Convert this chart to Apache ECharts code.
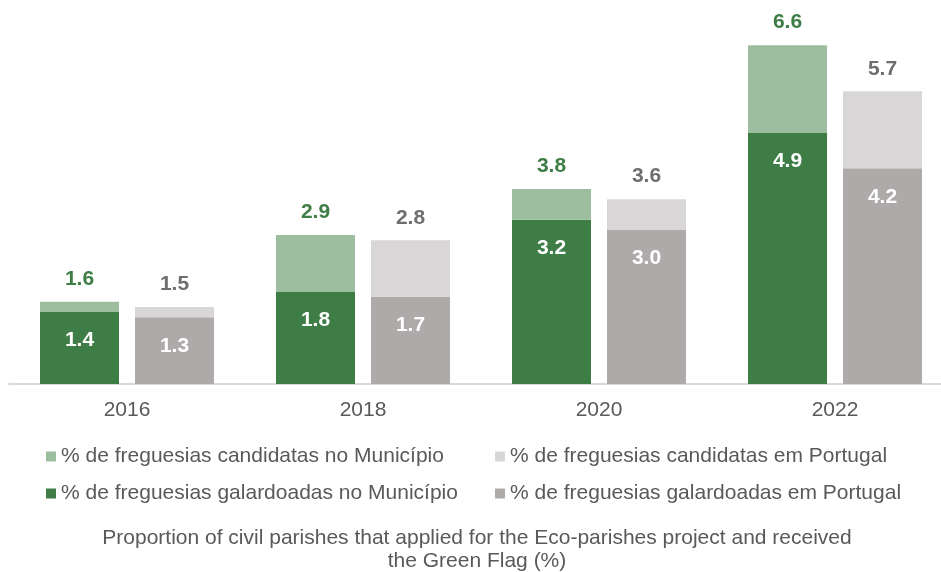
<!DOCTYPE html>
<html><head><meta charset="utf-8">
<script src="https://cdn.jsdelivr.net/npm/echarts@6/dist/echarts.min.js"></script>
<style>html,body{margin:0;padding:0;background:#fff}#c{width:941px;height:572px}</style>
</head><body><div id="c"></div>
<script>
const years = ['2016', '2018', '2020', '2022'];
const candMun = [1.6, 2.9, 3.8, 6.6];
const galMun = [1.4, 1.8, 3.2, 4.9];
const candPt = [1.5, 2.8, 3.6, 5.7];
const galPt = [1.3, 1.7, 3.0, 4.2];
const names = ['% de freguesias candidatas no Município', '% de freguesias candidatas em Portugal',
  '% de freguesias galardoadas no Município', '% de freguesias galardoadas em Portugal'];
const titleText = 'Proportion of civil parishes that applied for the Eco-parishes project and received\nthe Green Flag (%)';

const FONT = '"Liberation Sans", Arial, sans-serif';
const FS = 21;
const C = { dg: '#3F7D46', lg: '#9DBE9E', dgr: '#AEAAAA', lgr: '#D8D6D7', txt: '#595959' };
const fmt1 = v => Number(v).toFixed(1);

const chart = echarts.init(document.getElementById('c'));
function leg(name, left, top) {
  return { data: [name], left, top, icon: 'rect', itemWidth: 10, itemHeight: 10, itemGap: 0,
    selectedMode: false, padding: 0,
    textStyle: { fontFamily: FONT, fontSize: FS, color: C.txt, padding: [0, 0, 0, 0] } };
}
const diffMun = candMun.map((v, i) => +(v - galMun[i]).toFixed(2));
const diffPt = candPt.map((v, i) => +(v - galPt[i]).toFixed(2));
const insideLbl = { show: true, position: 'insideTop', distance: 18, color: '#fff', fontFamily: FONT,
  fontSize: FS, fontWeight: 'bold', formatter: p => fmt1(p.value) };
chart.setOption({
  animation: false,
  title: { text: titleText, left: 472, textAlign: 'center', top: 522,
    textStyle: { fontFamily: FONT, fontSize: FS, fontWeight: 'normal', color: C.txt, lineHeight: 23 } },
  legend: [leg(names[0], 46, 446), leg(names[1], 495, 446), leg(names[2], 46, 483), leg(names[3], 495, 483)],
  grid: { left: 9, right: -12, top: 24.6, bottom: 188, outerBoundsMode: 'none' },
  xAxis: { type: 'category', data: years,
    axisLine: { lineStyle: { color: '#D9D9D9', width: 2 } }, axisTick: { show: false },
    axisLabel: { fontFamily: FONT, fontSize: FS, color: C.txt, margin: 16 } },
  yAxis: { type: 'value', min: 0, max: 7, show: false, splitLine: { show: false } },
  series: [
    { name: names[2], type: 'bar', stack: 'mun', data: galMun, barWidth: 79, barGap: '20.25%',
      itemStyle: { color: C.dg }, label: insideLbl },
    { name: names[0], type: 'bar', stack: 'mun', data: diffMun, barWidth: 79,
      itemStyle: { color: C.lg },
      label: { show: true, position: 'top', distance: 12, color: C.dg, fontFamily: FONT, fontSize: FS,
        fontWeight: 'bold', formatter: p => fmt1(candMun[p.dataIndex]) } },
    { name: names[3], type: 'bar', stack: 'pt', data: galPt, barWidth: 79,
      itemStyle: { color: C.dgr }, label: insideLbl },
    { name: names[1], type: 'bar', stack: 'pt', data: diffPt, barWidth: 79,
      itemStyle: { color: C.lgr },
      label: { show: true, position: 'top', distance: 12, color: '#6E6E6E', fontFamily: FONT, fontSize: FS,
        fontWeight: 'bold', formatter: p => fmt1(candPt[p.dataIndex]) } }
  ]
});
</script></body></html>
